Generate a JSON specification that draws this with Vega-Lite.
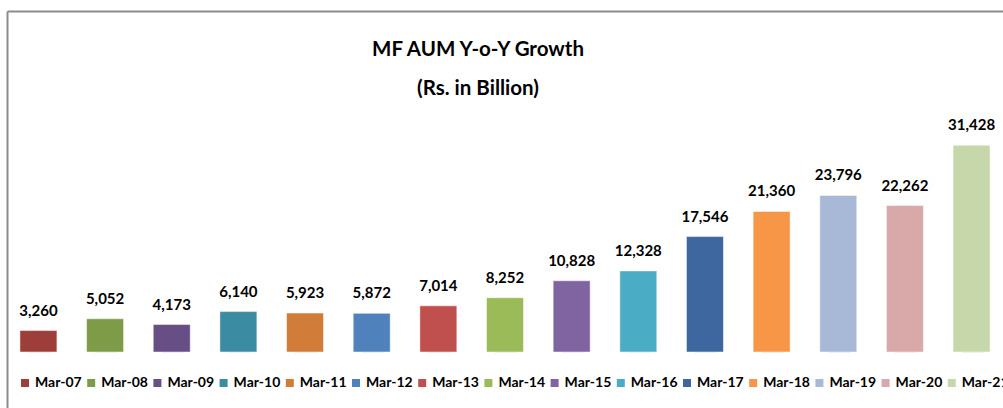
{
  "$schema": "https://vega.github.io/schema/vega-lite/v6.json",
  "width": 996,
  "height": 397,
  "autosize": {"type": "none"},
  "padding": {"left": 7, "top": 11, "right": 0, "bottom": 0},
  "background": "white",
  "title": {
    "text": ["MF AUM Y-o-Y Growth", "(Rs. in Billion)"],
    "orient": "top",
    "anchor": "middle",
    "frame": "group",
    "baseline": "top",
    "offset": -88,
    "dx": -27,
    "font": "Lato",
    "fontSize": 20.5,
    "fontWeight": "bold",
    "color": "#000000",
    "lineHeight": 39
  },
  "data": {
    "values": [
      {"year": "Mar-07", "aum": 3260},
      {"year": "Mar-08", "aum": 5052},
      {"year": "Mar-09", "aum": 4173},
      {"year": "Mar-10", "aum": 6140},
      {"year": "Mar-11", "aum": 5923},
      {"year": "Mar-12", "aum": 5872},
      {"year": "Mar-13", "aum": 7014},
      {"year": "Mar-14", "aum": 8252},
      {"year": "Mar-15", "aum": 10828},
      {"year": "Mar-16", "aum": 12328},
      {"year": "Mar-17", "aum": 17546},
      {"year": "Mar-18", "aum": 21360},
      {"year": "Mar-19", "aum": 23796},
      {"year": "Mar-20", "aum": 22262},
      {"year": "Mar-21", "aum": 31428}
    ]
  },
  "encoding": {
    "x": {
      "field": "year",
      "type": "nominal",
      "sort": null,
      "scale": {"paddingInner": 0.445, "paddingOuter": 0.194},
      "axis": {
        "orient": "top",
        "title": null,
        "labels": false,
        "ticks": false,
        "domain": true,
        "domainColor": "#8c8c8c",
        "domainWidth": 2,
        "grid": false
      }
    },
    "y": {
      "field": "aum",
      "type": "quantitative",
      "scale": {"domain": [-8512, 51832], "nice": false, "zero": false},
      "axis": {
        "title": null,
        "labels": false,
        "ticks": false,
        "domain": true,
        "domainColor": "#8c8c8c",
        "domainWidth": 2,
        "grid": false
      }
    }
  },
  "layer": [
    {
      "mark": {"type": "bar", "color": "#e6e6e6", "width": {"band": 0.6}, "xOffset": 1},
      "encoding": {"y2": {"datum": -120}}
    },
    {
      "mark": {"type": "bar", "stroke": "white", "strokeWidth": 0.5},
      "encoding": {
        "y2": {"datum": 0},
        "color": {
          "field": "year",
          "type": "nominal",
          "sort": null,
          "scale": {
            "domain": ["Mar-07","Mar-08","Mar-09","Mar-10","Mar-11","Mar-12","Mar-13","Mar-14","Mar-15","Mar-16","Mar-17","Mar-18","Mar-19","Mar-20","Mar-21"],
            "range": ["#9E3E3B","#7E9B47","#674E85","#3B8CA2","#D17C38","#4F81BD","#C0504D","#9BBB59","#8064A2","#4BACC6","#3E67A0","#F79646","#A8B9D8","#D9A8A8","#C6D8A9"]
          },
          "legend": {
            "orient": "none",
            "legendX": 11,
            "legendY": 365,
            "direction": "horizontal",
            "columns": 15,
            "title": null,
            "symbolType": "square",
            "symbolSize": 64,
            "symbolStrokeWidth": 0,
            "labelFont": "Lato",
            "labelFontSize": 14,
            "labelFontWeight": "bold",
            "labelColor": "#000000",
            "labelOffset": 3,
            "columnPadding": 2.2,
            "padding": 0
          }
        }
      }
    },
    {
      "mark": {
        "type": "text",
        "baseline": "alphabetic",
        "dy": -15,
        "font": "Lato",
        "fontSize": 15,
        "fontWeight": "bold",
        "color": "#000000"
      },
      "encoding": {
        "text": {"field": "aum", "type": "quantitative", "format": ","}
      }
    }
  ],
  "config": {
    "view": {"stroke": null}
  }
}
